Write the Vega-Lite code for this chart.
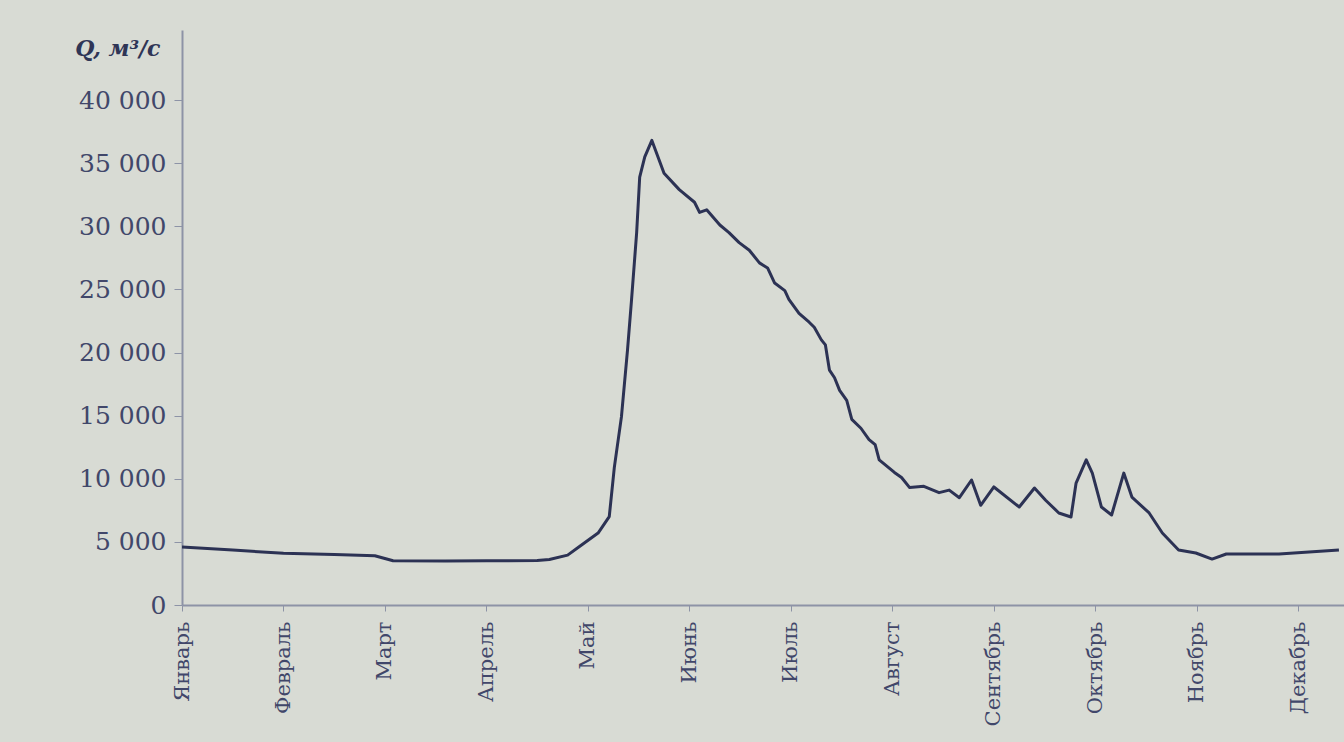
{
  "$schema": "https://vega.github.io/schema/vega-lite/v6.json",
  "width": 1162,
  "height": 575,
  "autosize": "none",
  "padding": {"left": 182, "top": 30, "right": 0, "bottom": 137},
  "background": "#d8dbd4",
  "config": {"view": {"stroke": null}, "font": "DejaVu Serif"},
  "data": {"values": [
    {"m": 0, "q": 4600},
    {"m": 0.5, "q": 4350},
    {"m": 1.0, "q": 4100},
    {"m": 1.5, "q": 4000},
    {"m": 1.9, "q": 3900},
    {"m": 2.08, "q": 3500},
    {"m": 2.6, "q": 3480},
    {"m": 3.0, "q": 3500},
    {"m": 3.5, "q": 3520},
    {"m": 3.62, "q": 3600},
    {"m": 3.8, "q": 3950},
    {"m": 3.92, "q": 4650},
    {"m": 4.1, "q": 5700},
    {"m": 4.21, "q": 7000},
    {"m": 4.26, "q": 10900},
    {"m": 4.33, "q": 14900},
    {"m": 4.39, "q": 20200},
    {"m": 4.43, "q": 24200},
    {"m": 4.48, "q": 29500},
    {"m": 4.51, "q": 33900},
    {"m": 4.56, "q": 35500},
    {"m": 4.63, "q": 36800},
    {"m": 4.75, "q": 34200},
    {"m": 4.9, "q": 32900},
    {"m": 5.05, "q": 31900},
    {"m": 5.1, "q": 31100},
    {"m": 5.17, "q": 31300},
    {"m": 5.3, "q": 30100},
    {"m": 5.39, "q": 29500},
    {"m": 5.49, "q": 28700},
    {"m": 5.59, "q": 28100},
    {"m": 5.69, "q": 27100},
    {"m": 5.77, "q": 26700},
    {"m": 5.84, "q": 25500},
    {"m": 5.94, "q": 24900},
    {"m": 5.98, "q": 24200},
    {"m": 6.08, "q": 23100},
    {"m": 6.18, "q": 22400},
    {"m": 6.23, "q": 22000},
    {"m": 6.3, "q": 21000},
    {"m": 6.34, "q": 20600},
    {"m": 6.38, "q": 18600},
    {"m": 6.43, "q": 18000},
    {"m": 6.48, "q": 17000},
    {"m": 6.55, "q": 16200},
    {"m": 6.6, "q": 14700},
    {"m": 6.69, "q": 14000},
    {"m": 6.77, "q": 13100},
    {"m": 6.83, "q": 12700},
    {"m": 6.87, "q": 11500},
    {"m": 7.02, "q": 10500},
    {"m": 7.09, "q": 10100},
    {"m": 7.17, "q": 9300},
    {"m": 7.31, "q": 9400},
    {"m": 7.46, "q": 8900},
    {"m": 7.56, "q": 9100},
    {"m": 7.66, "q": 8500},
    {"m": 7.78, "q": 9900},
    {"m": 7.87, "q": 7900},
    {"m": 8.0, "q": 9350},
    {"m": 8.25, "q": 7760},
    {"m": 8.4, "q": 9270},
    {"m": 8.51, "q": 8300},
    {"m": 8.64, "q": 7290},
    {"m": 8.76, "q": 6970},
    {"m": 8.81, "q": 9660},
    {"m": 8.91, "q": 11500},
    {"m": 8.97, "q": 10450},
    {"m": 9.06, "q": 7760},
    {"m": 9.16, "q": 7130},
    {"m": 9.28, "q": 10450},
    {"m": 9.36, "q": 8550},
    {"m": 9.53, "q": 7290},
    {"m": 9.66, "q": 5700},
    {"m": 9.82, "q": 4360},
    {"m": 9.99, "q": 4120},
    {"m": 10.15, "q": 3640},
    {"m": 10.29, "q": 4040},
    {"m": 10.81, "q": 4040},
    {"m": 11.4, "q": 4360}
  ]},
  "mark": {"type": "line", "color": "#2c3254", "strokeWidth": 3, "clip": true, "strokeJoin": "round"},
  "encoding": {
    "x": {
      "field": "m",
      "type": "quantitative",
      "scale": {"domain": [0, 11.45], "nice": false, "zero": false},
      "axis": {
        "title": null,
        "values": [0, 1, 2, 3, 4, 5, 6, 7, 8, 9, 10, 11],
        "labelExpr": "['Январь','Февраль','Март','Апрель','Май','Июнь','Июль','Август','Сентябрь','Октябрь','Ноябрь','Декабрь'][round(datum.value)]",
        "labelAngle": -90,
        "labelAlign": "right",
        "labelBaseline": "middle",
        "labelFontSize": 21,
        "labelColor": "#41476a",
        "labelPadding": 10,
        "labelFlush": false,
        "labelOverlap": false,
        "domainColor": "#8d93a6",
        "domainWidth": 2,
        "tickColor": "#8d93a6",
        "tickSize": 6,
        "grid": false
      }
    },
    "y": {
      "field": "q",
      "type": "quantitative",
      "scale": {"domain": [0, 45545], "nice": false},
      "axis": {
        "title": "Q, м³/с",
        "titleAngle": 0,
        "titleAlign": "right",
        "titleBaseline": "middle",
        "titleX": -22,
        "titleY": 18,
        "titleFontSize": 22,
        "titleFontWeight": "bold",
        "titleFontStyle": "italic",
        "titleColor": "#2f3556",
        "values": [0, 5000, 10000, 15000, 20000, 25000, 30000, 35000, 40000],
        "labelExpr": "replace(format(datum.value, ',d'), ',', ' ')",
        "labelFontSize": 25,
        "labelColor": "#41476a",
        "labelPadding": 8,
        "domainColor": "#8d93a6",
        "domainWidth": 2,
        "tickColor": "#8d93a6",
        "tickSize": 8,
        "grid": false
      }
    }
  }
}
